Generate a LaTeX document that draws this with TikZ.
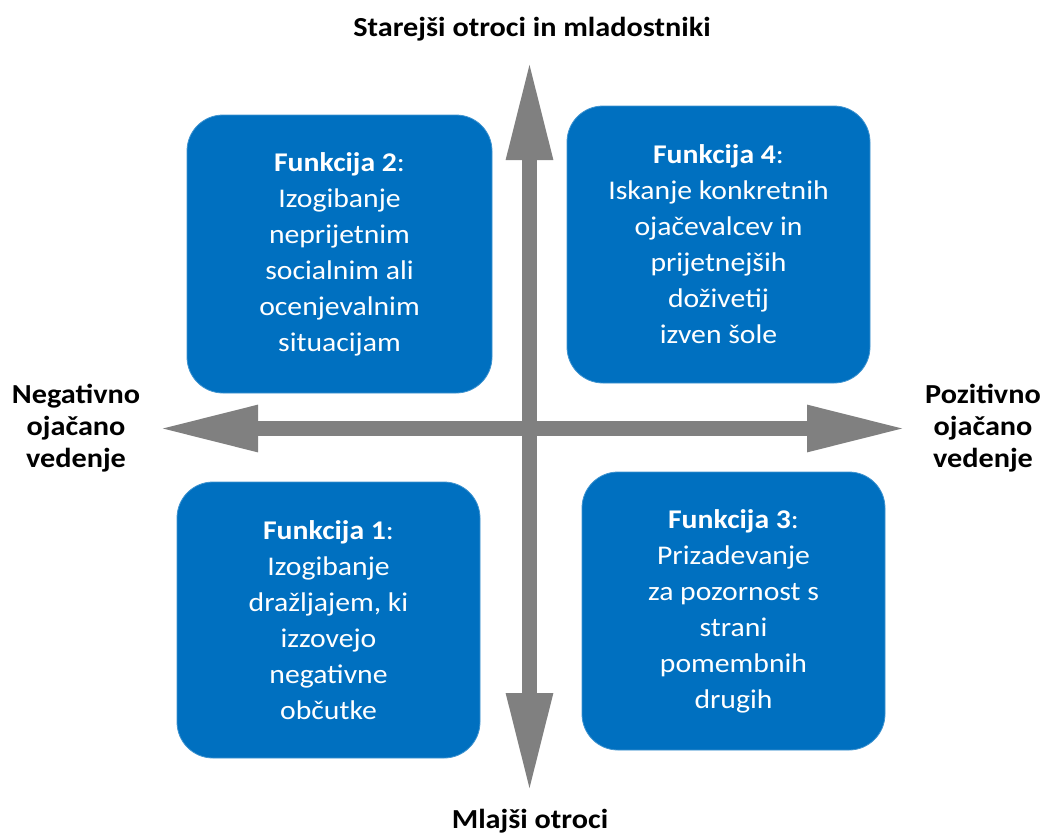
\documentclass[tikz,border=0pt]{standalone}
\usepackage{fontspec}
\setmainfont{Carlito}[FakeStretch=1.1]
\usetikzlibrary{arrows.meta}
\definecolor{boxblue}{RGB}{0,112,192}
\definecolor{arrgray}{RGB}{128,128,128}
\begin{document}
\begin{tikzpicture}[x=1pt,y=-1pt,
  quad/.style={fill=boxblue, draw=boxblue!75!white, line width=0.8pt, rounded corners=36pt, inner sep=0pt, text=white, align=center, font=\fontsize{27}{36}\selectfont},
  axislabel/.style={font=\fontsize{27.5}{32}\selectfont\bfseries, align=center, text=black, inner sep=0pt},
  bigarrow/.style={draw=arrgray, line width=15pt, {Triangle[length=100pt,width=43pt]}-{Triangle[length=100pt,width=43pt]}}]
\useasboundingbox (0,0) rectangle (1041,836);
% boxes
\node[quad, minimum width=305pt, minimum height=278pt] (f2) at (339.5,254)
  {\textbf{Funkcija 2}:\\Izogibanje\\neprijetnim\\socialnim ali\\ocenjevalnim\\situacijam};
\node[quad, minimum width=303pt, minimum height=277pt] (f4) at (718.5,244.5)
  {\textbf{Funkcija 4}:\\Iskanje konkretnih\\ojačevalcev in\\prijetnejših\\doživetij\\izven šole};
\node[quad, minimum width=303pt, minimum height=276pt] (f1) at (328.5,620)
  {\textbf{Funkcija 1}:\\Izogibanje\\dražljajem, ki\\izzovejo\\negativne\\občutke};
\node[quad, minimum width=303pt, minimum height=278pt] (f3) at (733.5,611)
  {\textbf{Funkcija 3}:\\Prizadevanje\\za pozornost s\\strani\\pomembnih\\drugih};
% axes
\coordinate (L) at (158,428.5);
\coordinate (R) at (907,428.5);
\coordinate (T) at (529.5,60);
\coordinate (B) at (529.5,793);
\draw[bigarrow] (L) -- (R);
\draw[bigarrow] (T) -- (B);
% labels
\node[axislabel, anchor=base] (top) at (532,36) {Starejši otroci in mladostniki};
\node[axislabel, anchor=base] (bot) at (530,828) {Mlajši otroci};
\node[axislabel] (neg) at (76,428) {Negativno\\ojačano\\vedenje};
\node[axislabel] (poz) at (983,428) {Pozitivno\\ojačano\\vedenje};
\end{tikzpicture}
\end{document}
